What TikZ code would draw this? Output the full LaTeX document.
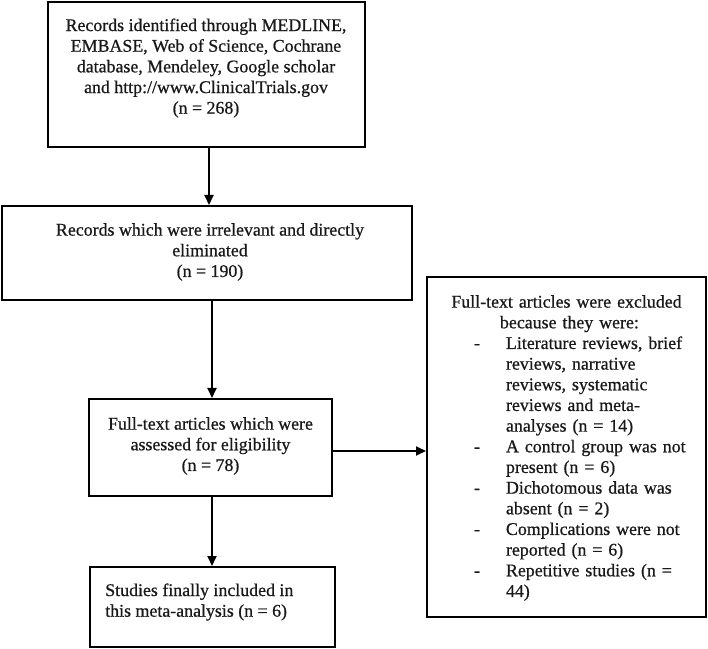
\documentclass[tikz,border=0pt]{standalone}
\usepackage{fontspec}
\setmainfont{Liberation Serif}[FakeBold=0.7]
\usetikzlibrary{arrows.meta}
\begin{document}
\begin{tikzpicture}[x=0.75pt,y=-0.75pt,
  box/.style={draw=black, line width=1.5pt, inner sep=0pt},
  txt/.style={inner sep=0pt, text=black!90, font=\fontsize{13.4}{15.5}\selectfont},
  arr/.style={line width=1.5pt, -{Triangle[length=7.5pt,width=6.75pt]}}]
\useasboundingbox (0,0) rectangle (708,649);
% boxes
\node[box, minimum width=237.75pt, minimum height=108.75pt] (b1) at (206.5,74.5) {};
\node[box, minimum width=307.5pt, minimum height=70.5pt] (b2) at (207,253) {};
\node[box, minimum width=182.25pt, minimum height=72.75pt] (b3) at (210.5,447.5) {};
\node[box, minimum width=209.25pt, minimum height=255pt] (b4) at (566.5,447) {};
\node[box, minimum width=183.75pt, minimum height=60pt] (b5) at (212.5,607) {};
% texts
\node[txt, align=center] (t1) at (206,68) {Records identified through MEDLINE,\\EMBASE, Web of Science, Cochrane\\database, Mendeley, Google scholar\\and http://www.ClinicalTrials.gov\\(n = 268)};
\node[txt, align=center] (t2) at (210,252) {Records which were irrelevant and directly\\eliminated\\(n = 190)};
\node[txt, align=center] (t3) at (210.5,446) {Full-text articles which were\\assessed for eligibility\\(n = 78)};
\node[txt, align=left, anchor=west] (t5) at (105,602) {Studies finally included in\\this meta-analysis (n = 6)};
\node[txt, text width=209.25pt, align=left] (t4) at (566.5,448) {%
\makebox[\linewidth][c]{Full-text articles were excluded}\\
\hspace*{54.75pt}because they were:\\
\makebox[59.25pt][l]{\hspace*{35.25pt}-}Literature reviews, brief\\
\hspace*{59.25pt}reviews, narrative\\
\hspace*{59.25pt}reviews, systematic\\
\hspace*{59.25pt}reviews and meta-\\
\hspace*{59.25pt}analyses (n = 14)\\
\makebox[59.25pt][l]{\hspace*{35.25pt}-}A control group was not\\
\hspace*{59.25pt}present (n = 6)\\
\makebox[59.25pt][l]{\hspace*{35.25pt}-}Dichotomous data was\\
\hspace*{59.25pt}absent (n = 2)\\
\makebox[59.25pt][l]{\hspace*{35.25pt}-}Complications were not\\
\hspace*{59.25pt}reported (n = 6)\\
\makebox[59.25pt][l]{\hspace*{35.25pt}-}Repetitive studies (n =\\
\hspace*{59.25pt}44)};
% connectors
\coordinate (xa) at (209,0);
\coordinate (xb) at (212,0);
\coordinate (ya) at (0,451);
\draw[arr] (b1.south -| xa) -- (b2.north -| xa);
\draw[arr] (b2.south -| xb) -- (b3.north -| xb);
\draw[arr] (b3.south -| xb) -- (b5.north -| xb);
\draw[arr] (b3.east |- ya) -- (b4.west |- ya);
\end{tikzpicture}
\end{document}
